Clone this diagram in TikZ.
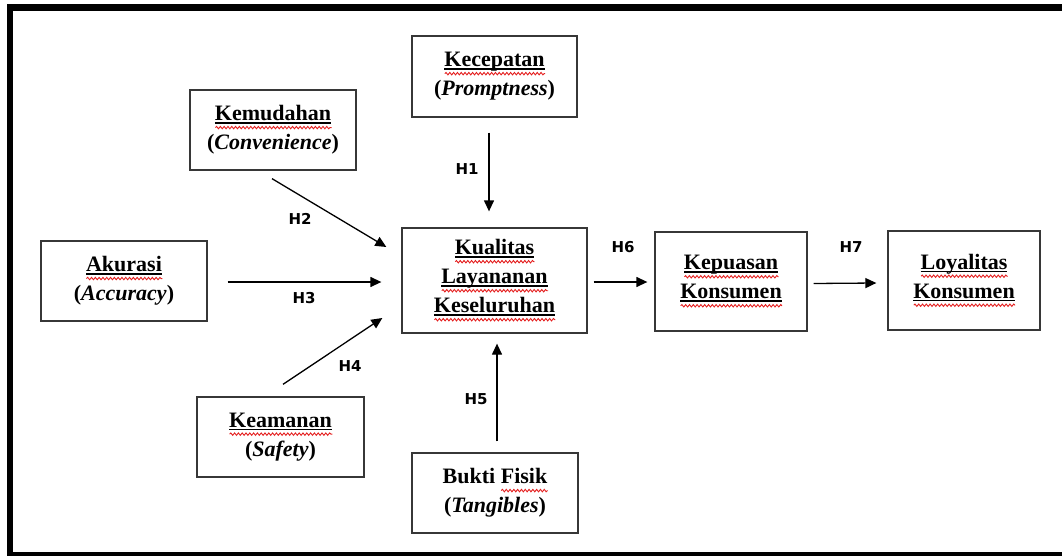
\documentclass[tikz,border=0pt]{standalone}
\usepackage{fontspec}
\setmainfont{Liberation Serif}
\newfontfamily\hfont{DejaVu Sans}
\usetikzlibrary{arrows.meta,decorations.pathmorphing}
\definecolor{wavered}{RGB}{228,30,30}
\definecolor{boxline}{RGB}{55,55,55}
% red wavy spell-check line, optionally with a black underline above it
\newsavebox\wordbox
\newlength\wordwd
\newcommand\wavebelow{%
  \rlap{\pgfinterruptpicture\tikz[baseline=0pt]\draw[wavered, line width=0.9pt,
    decorate, decoration={snake, amplitude=1.2pt, segment length=3.8pt}]
    (0pt,-6.8pt) -- (\wordwd,-6.8pt);\endpgfinterruptpicture}}
\newcommand\spw[1]{\sbox\wordbox{#1}\setlength\wordwd{\wd\wordbox}\leavevmode
  \rlap{\rule[-2.8pt]{\wordwd}{1.3pt}}\wavebelow\usebox\wordbox}
\newcommand\spx[1]{\sbox\wordbox{#1}\setlength\wordwd{\wd\wordbox}\leavevmode
  \wavebelow\usebox\wordbox}
\begin{document}
\begin{tikzpicture}[x=1pt,y=-1pt,
  box/.style={draw=boxline, line width=1.3pt, inner sep=0pt, align=center,
    font=\bfseries\fontsize{22}{29}\selectfont},
  hlabel/.style={font=\hfont\bfseries\fontsize{15}{15}\selectfont, inner sep=0pt},
  arr/.style={line width=1.3pt, -{Triangle[length=11pt,width=10pt]}}]
\clip (0,0) rectangle (1062,556);
% outer frame
\draw[line width=6.5pt] (10,7.5) rectangle (1085,555.5);

% constructs
\node[box, minimum width=166pt, minimum height=80pt] (kem) at (273,130)
  {\spw{Kemudahan}\\(\textit{Convenience})};
\node[box, minimum width=165pt, minimum height=81pt] (kec) at (494.5,76.5)
  {\spw{Kecepatan}\\(\textit{Promptness})};
\node[box, minimum width=166pt, minimum height=80pt] (aku) at (124,281)
  {\spw{Akurasi}\\(\textit{Accuracy})};
\node[box, minimum width=185pt, minimum height=105pt] (kua) at (494.5,280.5)
  {\spw{Kualitas}\\\spw{Layananan}\\\spw{Keseluruhan}};
\node[box, minimum width=152pt, minimum height=99pt] (kep) at (731,281.5)
  {\spw{Kepuasan}\\\spw{Konsumen}};
\node[box, minimum width=152pt, minimum height=99pt] (loy) at (964,280.5)
  {\spw{Loyalitas}\\\spw{Konsumen}};
\node[box, minimum width=167pt, minimum height=80pt] (kea) at (280.5,437)
  {\spw{Keamanan}\\(\textit{Safety})};
\node[box, minimum width=166pt, minimum height=80pt] (buk) at (495,493)
  {Bukti \spx{Fisik}\\(\textit{Tangibles})};

% hypotheses
\draw[arr] ([xshift=-5.5pt,yshift=-15pt]kec.south) -- ([xshift=-5.5pt,yshift=16pt]kua.north);
\draw[arr] ([xshift=-1pt,yshift=-8pt]kem.south) -- ([xshift=-15pt,yshift=33.5pt]kua.west);
\draw[arr] ([xshift=20pt,yshift=-1pt]aku.east) -- ([xshift=-20pt,yshift=-1.5pt]kua.west);
\draw[arr] ([xshift=2.5pt,yshift=12pt]kea.north) -- ([xshift=-19pt,yshift=-37.5pt]kua.west);
\draw[arr] ([xshift=2pt,yshift=11pt]buk.north) -- ([xshift=2.5pt,yshift=-10pt]kua.south);
\draw[arr] ([xshift=6pt,yshift=-1.5pt]kua.east) -- ([xshift=-7pt,yshift=-0.5pt]kep.west);
\draw[arr] ([xshift=6pt,yshift=-2pt]kep.east) -- ([xshift=-11pt,yshift=-2.5pt]loy.west);

\node[hlabel] (h1) at (467,169) {H1};
\node[hlabel] (h2) at (300,219) {H2};
\node[hlabel] (h3) at (304,298) {H3};
\node[hlabel] (h4) at (350,366) {H4};
\node[hlabel] (h5) at (476,399) {H5};
\node[hlabel] (h6) at (623,247) {H6};
\node[hlabel] (h7) at (851,247) {H7};
\end{tikzpicture}
\end{document}
